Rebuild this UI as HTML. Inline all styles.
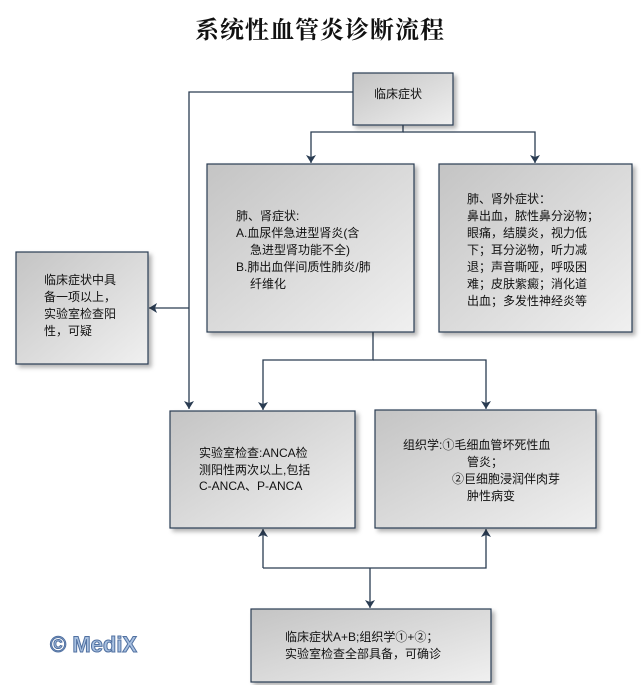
<!DOCTYPE html>
<html><head><meta charset="utf-8"><style>
body{margin:0;background:#fff;}
svg{display:block;}
text{font-family:"Liberation Sans","Noto Sans CJK SC",sans-serif;font-size:12px;fill:#111;}
</style></head><body>
<svg width="642" height="685" viewBox="0 0 642 685" xmlns="http://www.w3.org/2000/svg">
<defs>
<linearGradient id="g" x1="0" y1="0" x2="1" y2="1">
<stop offset="0" stop-color="#c4c4c4"/><stop offset="1" stop-color="#f0f0f0"/>
</linearGradient>
<marker id="a" markerWidth="8" markerHeight="10" refX="8" refY="5" orient="auto" markerUnits="userSpaceOnUse">
<path d="M0,0 L8,5 L0,10 L2,5 z" fill="#2a3c52"/>
</marker>
<filter id="s" x="-10%" y="-10%" width="130%" height="130%"><feDropShadow dx="3" dy="3" stdDeviation="2" flood-color="#000" flood-opacity="0.3"/></filter>
</defs>
<text x="320" y="38" text-anchor="middle" style="font-family:'Noto Serif CJK SC',serif;font-size:24px;font-weight:bold;letter-spacing:1px">系统性血管炎诊断流程</text>
<g stroke="#2a3c52" stroke-width="1.3" fill="none">
<path d="M353,92 H189 V409" marker-end="url(#a)"/>
<path d="M189,308 H149" marker-end="url(#a)"/>
<path d="M403,125 V132 H311 V163" marker-end="url(#a)"/>
<path d="M403,132 H535 V163" marker-end="url(#a)"/>
<path d="M373,332 V360 H263 V410" marker-end="url(#a)"/>
<path d="M373,360 H486 V409" marker-end="url(#a)"/>
<path d="M263,568 V529" marker-end="url(#a)"/>
<path d="M263,568 H486 V529" marker-end="url(#a)"/>
<path d="M370,568 V608" marker-end="url(#a)"/>
</g>
<g fill="url(#g)" stroke="#2a3c52" stroke-width="1.2" filter="url(#s)">
<rect x="353" y="73" width="100" height="52"/>
<rect x="207" y="164" width="207" height="168"/>
<rect x="439" y="164" width="193" height="168"/>
<rect x="16" y="252" width="132" height="112"/>
<rect x="170" y="411" width="185" height="117"/>
<rect x="375" y="410" width="221" height="118"/>
<rect x="251" y="609" width="240" height="73"/>
</g>
<text x="374" y="98">临床症状</text>
<text x="236" y="220">肺、肾症状:</text>
<text x="236" y="237">A.血尿伴急进型肾炎(含</text>
<text x="250" y="254">急进型肾功能不全)</text>
<text x="236" y="271">B.肺出血伴间质性肺炎/肺</text>
<text x="250" y="288">纤维化</text>
<text x="467" y="203">肺、肾外症状：</text>
<text x="467" y="220">鼻出血，脓性鼻分泌物；</text>
<text x="467" y="237">眼痛，结膜炎，视力低</text>
<text x="467" y="254">下；耳分泌物，听力减</text>
<text x="467" y="271">退；声音嘶哑，呼吸困</text>
<text x="467" y="288">难；皮肤紫癜；消化道</text>
<text x="467" y="305">出血；多发性神经炎等</text>
<text x="44" y="284">临床症状中具</text>
<text x="44" y="301">备一项以上，</text>
<text x="44" y="318">实验室检查阳</text>
<text x="44" y="335">性，可疑</text>
<text x="199" y="457">实验室检查:ANCA检</text>
<text x="199" y="474">测阳性两次以上,包括</text>
<text x="199" y="490">C-ANCA、P-ANCA</text>
<text x="403" y="449">组织学:①毛细血管坏死性血</text>
<text x="467" y="466">管炎；</text>
<text x="452" y="483">②巨细胞浸润伴肉芽</text>
<text x="467" y="500">肿性病变</text>
<text x="285" y="641">临床症状A+B;组织学①+②；</text>
<text x="285" y="658">实验室检查全部具备，可确诊</text>
<text x="50" y="652" style="font-size:22px;font-weight:bold;fill:#a8c0e0;stroke:#5070a0;stroke-width:1">© MediX</text>
</svg>
</body></html>
